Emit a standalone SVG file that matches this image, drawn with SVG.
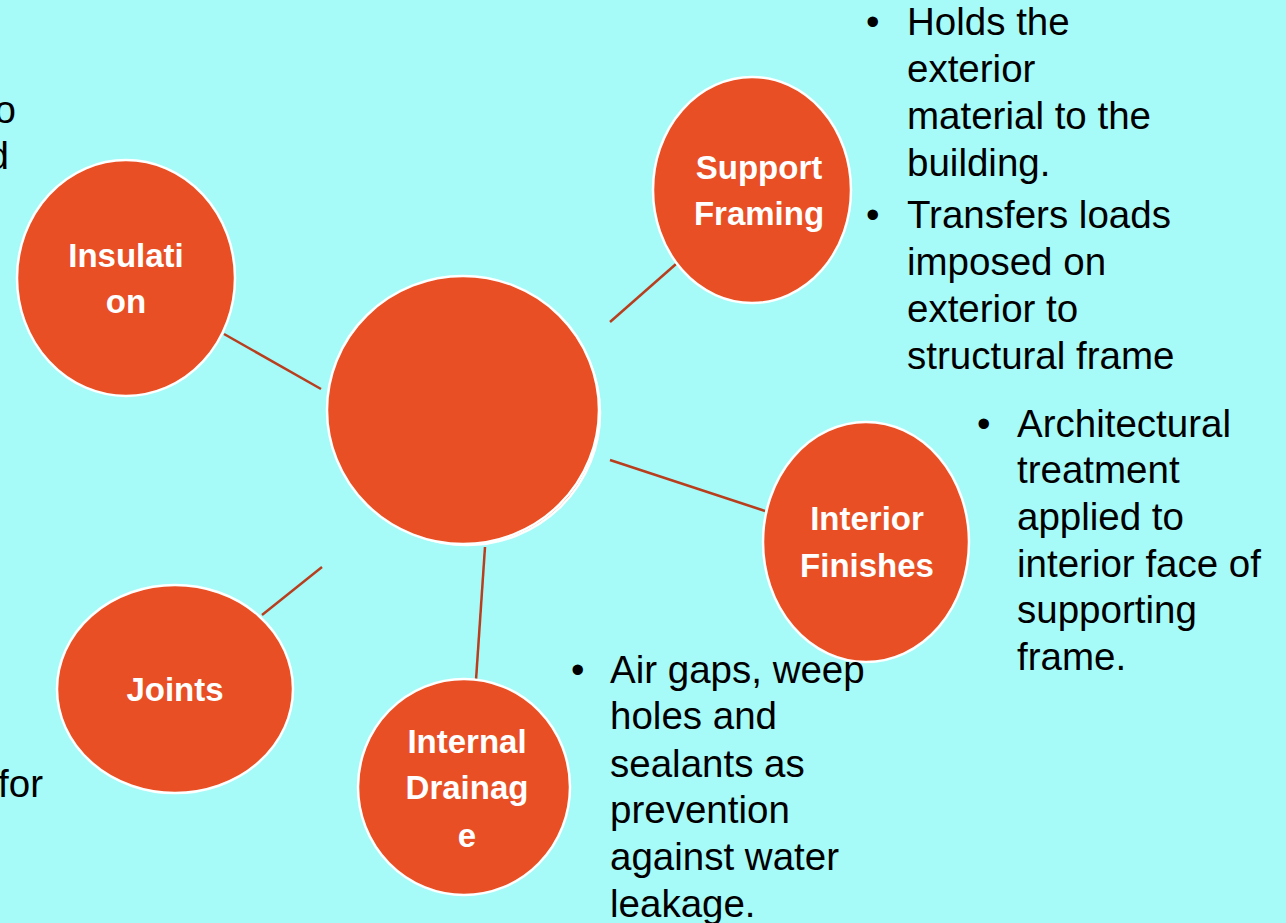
<svg xmlns="http://www.w3.org/2000/svg" width="1286" height="923" viewBox="0 0 1286 923">
<style>
.bg{fill:#A6FBF9}
.node{fill:#E84F24;stroke:#FFFFFF;stroke-width:2.5}
.lbl{font-family:"Liberation Sans",Arial,sans-serif;font-weight:bold;font-size:33px;fill:#FFFFFF;text-anchor:middle}
.txt{font-family:"Liberation Sans",Arial,sans-serif;font-size:38.5px;fill:#000000}
.conn line{stroke:#B83E1E;stroke-width:2.5}
</style>
<rect class="bg" x="0" y="0" width="1286" height="923"/>
<g id="connectors" class="conn">
<line x1="224" y1="334" x2="321" y2="389"/>
<line x1="610" y1="322" x2="676" y2="264"/>
<line x1="610" y1="460" x2="765" y2="511"/>
<line x1="485" y1="547" x2="476" y2="680"/>
<line x1="322" y1="567" x2="262" y2="615"/>
</g>
<g id="center">
<ellipse class="node" cx="467" cy="413" rx="133" ry="132"/>
<ellipse class="node" cx="463" cy="410" rx="136" ry="134"/>
</g>
<g id="insulation">
<ellipse class="node" cx="126" cy="278" rx="109" ry="118"/>
<text class="lbl" x="126" y="267">Insulati</text>
<text class="lbl" x="126" y="313">on</text>
</g>
<g id="support-framing">
<ellipse class="node" cx="752" cy="190" rx="99" ry="113"/>
<text class="lbl" x="759" y="179">Support</text>
<text class="lbl" x="759" y="225">Framing</text>
</g>
<g id="interior-finishes">
<ellipse class="node" cx="866" cy="542" rx="103" ry="120"/>
<text class="lbl" x="867" y="530">Interior</text>
<text class="lbl" x="867" y="577">Finishes</text>
</g>
<g id="joints">
<ellipse class="node" cx="175" cy="689" rx="118" ry="104"/>
<text class="lbl" x="175" y="701">Joints</text>
</g>
<g id="internal-drainage">
<ellipse class="node" cx="464" cy="787" rx="106" ry="108"/>
<text class="lbl" x="467" y="753">Internal</text>
<text class="lbl" x="467" y="799">Drainag</text>
<text class="lbl" x="467" y="847">e</text>
</g>
<g id="text-support">
<text class="txt" x="866" y="35">•</text>
<text class="txt" x="907" y="35">Holds the</text>
<text class="txt" x="907" y="82">exterior</text>
<text class="txt" x="907" y="129">material to the</text>
<text class="txt" x="907" y="176">building.</text>
<text class="txt" x="866" y="228">•</text>
<text class="txt" x="907" y="228">Transfers loads</text>
<text class="txt" x="907" y="275">imposed on</text>
<text class="txt" x="907" y="322">exterior to</text>
<text class="txt" x="907" y="369">structural frame</text>
</g>
<g id="text-interior">
<text class="txt" x="977" y="437">•</text>
<text class="txt" x="1017" y="437">Architectural</text>
<text class="txt" x="1017" y="483">treatment</text>
<text class="txt" x="1017" y="530">applied to</text>
<text class="txt" x="1017" y="577">interior face of</text>
<text class="txt" x="1017" y="623">supporting</text>
<text class="txt" x="1017" y="670">frame.</text>
</g>
<g id="text-drainage">
<text class="txt" x="571" y="683">•</text>
<text class="txt" x="610" y="683">Air gaps, weep</text>
<text class="txt" x="610" y="729">holes and</text>
<text class="txt" x="610" y="777">sealants as</text>
<text class="txt" x="610" y="823">prevention</text>
<text class="txt" x="610" y="870">against water</text>
<text class="txt" x="610" y="917">leakage.</text>
</g>
<g id="text-left">
<text class="txt" x="16" y="123" text-anchor="end">o</text>
<text class="txt" x="9" y="169" text-anchor="end">d</text>
<text class="txt" x="43" y="797" text-anchor="end">for</text>
</g>
</svg>
